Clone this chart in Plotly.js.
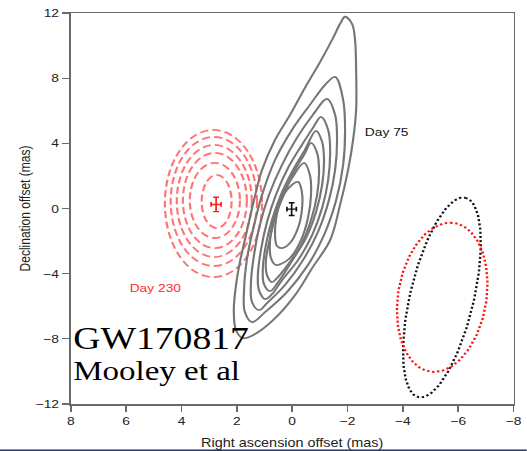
<!DOCTYPE html>
<html>
<head>
<meta charset="utf-8">
<script src="https://cdn.plot.ly/plotly-3.0.1.min.js"></script>
<style>
  html, body { margin: 0; padding: 0; background: #fff; overflow: hidden; }
  /* the figure is laid out narrow and widened 1.2x, giving the broad lettering */
  #chart { width: 439.17px; height: 451px; transform: scaleX(1.2); transform-origin: 0 0; }
</style>
</head>
<body>
<div id="chart"></div>
<script>
// Day 75 intensity contours (outermost first), offsets in mas
const day75X = [
  [-1.91,-2.16,-2.27,-2.31,-2.31,-2.20,-2.02,-1.73,-1.37,-0.72,-0.10,0.69,1.42,1.78,2.03,2.11,2.03,1.89,1.67,1.38,1.09,0.62,0.08,-0.46,-1.01,-1.48,-1.73,-1.91],
  [-1.55,-1.84,-1.91,-1.84,-1.59,-1.15,-0.57,0.19,0.98,1.45,1.71,1.74,1.64,1.42,1.09,0.62,0.01,-0.64,-1.19,-1.55],
  [-1.26,-1.55,-1.62,-1.55,-1.33,-0.93,-0.39,0.26,0.91,1.20,1.45,1.49,1.38,1.17,0.84,0.37,-0.17,-0.75,-1.26],
  [-1.04,-1.30,-1.37,-1.30,-1.08,-0.72,-0.21,0.37,0.73,0.98,1.20,1.24,1.13,0.91,0.59,0.15,-0.35,-0.75,-1.04],
  [-0.86,-1.08,-1.15,-1.08,-0.86,-0.50,0.01,0.51,0.80,1.02,1.06,0.95,0.73,0.41,0.01,-0.46,-0.86],
  [-0.68,-0.90,-0.97,-0.90,-0.68,-0.32,0.19,0.55,0.73,0.91,0.95,0.80,0.59,0.26,-0.10,-0.43,-0.68],
  [-0.43,-0.64,-0.68,-0.57,-0.32,0.08,0.41,0.59,0.77,0.80,0.66,0.37,0.01,-0.43],
  [-0.21,-0.35,-0.35,-0.21,0.08,0.37,0.55,0.62,0.59,0.44,0.19,-0.21]
];
const day75Y = [
  [11.77,11.34,10.36,8.51,6.05,4.21,2.37,0.22,-1.94,-3.66,-5.32,-6.85,-7.78,-7.96,-7.47,-6.24,-4.70,-3.29,-1.63,0.52,2.37,4.21,5.75,7.41,9.00,10.48,11.34,11.77],
  [8.08,6.67,4.82,2.67,0.52,-1.63,-3.47,-5.13,-6.36,-6.98,-6.36,-5.01,-3.17,-1.32,0.83,2.98,4.82,6.36,7.59,8.08],
  [6.73,5.75,4.21,2.37,0.52,-1.44,-3.17,-4.70,-5.81,-6.24,-5.75,-4.52,-2.86,-1.01,0.83,2.67,4.33,5.75,6.73],
  [5.62,4.82,3.60,1.75,0.03,-1.63,-3.17,-4.40,-5.26,-5.56,-5.01,-4.09,-2.55,-0.83,0.83,2.49,3.90,4.95,5.62],
  [4.76,4.09,2.98,1.44,-0.22,-1.81,-3.23,-4.52,-5.07,-4.64,-3.66,-2.24,-0.71,0.83,2.24,3.60,4.76],
  [4.03,3.41,2.37,0.83,-0.71,-2.24,-3.53,-4.27,-4.52,-4.09,-3.17,-1.81,-0.40,1.01,2.37,3.29,4.03],
  [2.80,2.06,0.83,-0.58,-1.94,-3.04,-3.41,-3.47,-3.04,-1.94,-0.58,0.83,1.87,2.80],
  [1.63,1.01,-0.09,-1.20,-2.12,-2.43,-2.30,-1.63,-0.71,0.34,1.14,1.63]
];

// Day 230 contours (innermost first): east/west and north/south extents in mas
const day230Left   = [3.27, 3.70, 3.95, 4.17, 4.39, 4.60];
const day230Right  = [2.19, 1.89, 1.64, 1.46, 1.27, 1.09];
const day230Top    = [2.06, 2.80, 3.41, 3.90, 4.39, 4.82];
const day230Bottom = [-1.20, -1.81, -2.43, -2.98, -3.53, -4.21];

// fitted centroids with 1-sigma errors
const centroidX   = [0.02, 2.75];
const centroidY   = [-0.04, 0.25];
const centroidErrX = [0.17, 0.18];
const centroidErrY = [0.39, 0.44];

// position ellipses (Day 75 black, Day 230 red): centre and conjugate semi-diameters
const ellipseCentreX = [-5.41, -5.42];
const ellipseCentreY = [-5.46, -5.45];
const ellipseAxisU = [[-0.85, 6.12], [-0.29, 4.58]];
const ellipseAxisV = [[-1.12, -0.44], [-1.61, 0.00]];

const xTicks = [8, 6, 4, 2, 0, -2, -4, -6, -8];
const yTicks = [-12, -8, -4, 0, 4, 8, 12];

const sans = 'Liberation Sans, Arial, Helvetica, sans-serif';
const serif = 'Liberation Serif, Times New Roman, serif';
const traces = [];

day75X.forEach((xs, i) => {
  traces.push({
    x: xs, y: day75Y[i], type: 'scatter', mode: 'lines', hoverinfo: 'skip',
    line: { color: '#767676', width: 1.8, shape: 'spline', smoothing: 1 },
    showlegend: false
  });
});

const ellipseColours = ['#111111', '#ff1010'];
ellipseCentreX.forEach((cx, k) => {
  const ex = [], ey = [];
  for (let i = 0; i <= 180; i++) {
    const t = 2 * Math.PI * i / 180;
    ex.push(cx + ellipseAxisU[k][0] * Math.cos(t) + ellipseAxisV[k][0] * Math.sin(t));
    ey.push(ellipseCentreY[k] + ellipseAxisU[k][1] * Math.cos(t) + ellipseAxisV[k][1] * Math.sin(t));
  }
  traces.push({
    x: ex, y: ey, type: 'scatter', mode: 'lines', hoverinfo: 'skip', showlegend: false,
    line: { color: ellipseColours[k], width: 2, dash: '2px,2.2px' }
  });
});

const crossColours = ['#111111', '#ff1a1a'];
centroidX.forEach((cx, k) => {
  traces.push({
    x: [cx], y: [centroidY[k]], type: 'scatter', mode: 'markers', showlegend: false,
    marker: { size: 1, color: crossColours[k], opacity: 0 },
    error_x: { type: 'data', array: [centroidErrX[k]], color: crossColours[k], thickness: 1.4, width: 2.4 },
    error_y: { type: 'data', array: [centroidErrY[k]], color: crossColours[k], thickness: 1.4, width: 2.4 }
  });
});

const shapes = day230Left.map((l, i) => ({
  type: 'circle', xref: 'x', yref: 'y', layer: 'below',
  x0: l, x1: day230Right[i], y0: day230Bottom[i], y1: day230Top[i],
  line: { color: '#ff7474', width: 1.8, dash: '7px,3.5px' }
}));
// dark rule along the foot of the slide
shapes.push({
  type: 'rect', xref: 'paper', yref: 'paper', x0: -0.2, x1: 1.1, y0: -0.1225, y1: -0.1162,
  fillcolor: '#1d3c6c', line: { width: 0 }
});

const axisCommon = {
  showgrid: false, zeroline: false, showline: true, mirror: true,
  linecolor: '#6a6a6a', linewidth: 1.5,
  ticks: 'outside', ticklen: 6, tickwidth: 1.3, tickcolor: '#6a6a6a',
  tickfont: { family: sans, size: 11.5, color: '#222' }
};

const layout = {
  width: 439.17, height: 451,
  margin: { l: 59.17, r: 11.42, t: 13.3, b: 47.3 },
  paper_bgcolor: '#fff', plot_bgcolor: '#fff',
  showlegend: false,
  xaxis: Object.assign({}, axisCommon, {
    range: [8, -8], tickmode: 'array', tickvals: xTicks,
    title: { text: 'Right ascension offset (mas)', font: { family: sans, size: 12, color: '#222' }, standoff: 12 }
  }),
  yaxis: Object.assign({}, axisCommon, {
    range: [-12, 12], tickmode: 'array', tickvals: yTicks,
    title: { text: 'Declination offset (mas)', font: { family: sans, size: 12, color: '#222' }, standoff: 1 }
  }),
  shapes: shapes,
  annotations: [
    { x: -3.41, y: 4.7, text: 'Day 75', showarrow: false, xanchor: 'center', yanchor: 'middle',
      font: { family: sans, size: 11.5, color: '#111' } },
    { x: 4.95, y: -4.86, text: 'Day 230', showarrow: false, xanchor: 'center', yanchor: 'middle',
      font: { family: sans, size: 11.5, color: '#ff2a2a' } },
    { x: 8, xshift: -0.3, y: -7.96, text: 'GW170817', showarrow: false, xanchor: 'left', yanchor: 'middle',
      font: { family: serif, size: 31.4, color: '#000' } },
    { x: 8, xshift: -0.3, y: -9.95, text: 'Mooley et al', showarrow: false, xanchor: 'left', yanchor: 'middle',
      font: { family: serif, size: 27.5, color: '#000' } }
  ]
};

Plotly.newPlot('chart', traces, layout, { staticPlot: true, displayModeBar: false });
</script>
</body>
</html>
